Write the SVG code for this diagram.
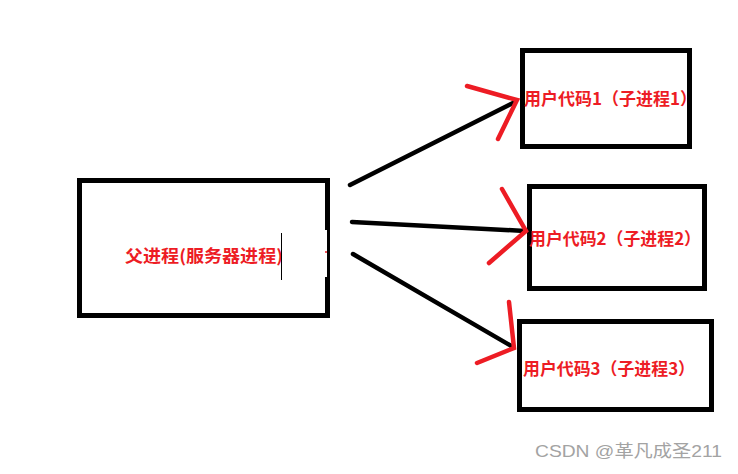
<svg xmlns="http://www.w3.org/2000/svg" width="738" height="474" viewBox="0 0 738 474">
<style>
.box{fill:none;stroke:#000;stroke-width:5}
.lbl{fill:#ed1c24;font-family:"Microsoft YaHei","Noto Sans CJK SC","Noto Sans",sans-serif;font-weight:bold;font-size:17px}
.edge{stroke:#000;stroke-width:4.5;stroke-linecap:round;fill:none}
.head{stroke:#ed1c24;stroke-width:4.5;stroke-linecap:round;fill:none}
.wm{fill:#a3a3a3;font-family:"Liberation Sans","Noto Sans CJK SC",sans-serif;font-size:17px}
</style>
<rect width="738" height="474" fill="#fff"/>
<g id="parent">
<rect class="box" x="79.5" y="180.5" width="248" height="135"/>
<rect x="324.5" y="230" width="2.5" height="47" fill="#fff"/>
<circle cx="326" cy="252" r="1" fill="#ed1c24"/>
<text class="lbl" x="125" y="262" textLength="158" lengthAdjust="spacingAndGlyphs">父进程(服务器进程)</text>
<line x1="281.5" y1="233" x2="281.5" y2="280" stroke="#000" stroke-width="1"/>
</g>
<g id="child1">
<rect class="box" x="522.5" y="50.5" width="167" height="96"/>
<text class="lbl" x="524" y="105" textLength="173" lengthAdjust="spacingAndGlyphs">用户代码1（子进程1）</text>
</g>
<g id="child2">
<rect class="box" x="529.5" y="186.5" width="175" height="102"/>
<text class="lbl" x="529" y="245" textLength="172" lengthAdjust="spacingAndGlyphs">用户代码2（子进程2）</text>
</g>
<g id="child3">
<rect class="box" x="519.5" y="321.5" width="192" height="88"/>
<text class="lbl" x="523" y="375" textLength="172" lengthAdjust="spacingAndGlyphs">用户代码3（子进程3）</text>
</g>
<g id="connectors">
<line class="edge" x1="350" y1="185" x2="515" y2="102"/>
<polyline class="head" points="467,86 517,100 498,139"/>
<line class="edge" x1="352" y1="222" x2="525" y2="231"/>
<polyline class="head" points="502,189 526,231 489,263"/>
<line class="edge" x1="353" y1="254" x2="513" y2="347"/>
<polyline class="head" points="509,302 514,348 477,363"/>
</g>
<text class="wm" x="535" y="457" textLength="187" lengthAdjust="spacingAndGlyphs">CSDN @革凡成圣211</text>
</svg>
